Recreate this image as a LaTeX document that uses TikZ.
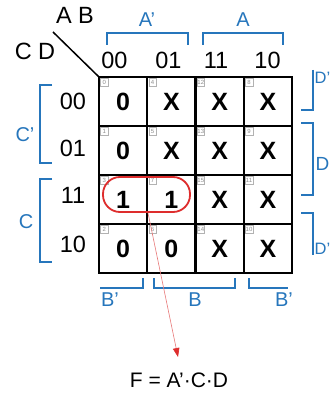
\documentclass[tikz,border=0pt]{standalone}
\usepackage{fontspec}
\setmainfont{Liberation Sans}
\usetikzlibrary{arrows.meta}
\definecolor{kblue}{RGB}{38,118,188}
\definecolor{kred}{RGB}{222,45,45}
\definecolor{kpink}{RGB}{232,120,120}
\begin{document}
\begin{tikzpicture}[x=1pt,y=-1pt,
  kcell/.style={draw=black,line width=2.2pt,minimum width=48.25pt,minimum height=49pt,inner sep=0pt,outer sep=0pt,font=\fontsize{25}{25}\selectfont\bfseries},
  kidx/.style={draw=gray!60,line width=0.4pt,minimum width=7.5pt,minimum height=7.5pt,inner sep=0.4pt,font=\fontsize{6}{6}\selectfont,text=gray!90,anchor=north west},
  hdr/.style={font=\fontsize{23.5}{23.5}\selectfont,inner sep=0pt},
  blab/.style={font=\fontsize{20}{20}\selectfont,text=kblue,inner sep=0pt},
  brk/.style={draw=kblue,line width=1.8pt}]
\useasboundingbox (0,0) rectangle (330,393);
\clip (0,0) rectangle (330,393);
\fill[white] (0,0) rectangle (330,393);
% cells
\foreach \r/\c/\v/\n in {0/0/0/0, 0/1/X/4, 0/2/X/12, 0/3/X/8,
                        1/0/0/1, 1/1/X/5, 1/2/X/13, 1/3/X/9,
                        2/0/1/3, 2/1/1/7, 2/2/X/15, 2/3/X/11,
                        3/0/0/2, 3/1/0/6, 3/2/X/14, 3/3/X/10}
{
  \node[kcell] (c\r\c) at ({123.125+48.25*\c},{101.5+49*\r}) {\v};
  \node[kidx] (i\r\c) at ([shift={(1.3pt,-1.3pt)}]c\r\c.north west) {\n};
}
% corner labels
\coordinate (dg) at (53,32);
\draw[line width=1.5pt] (dg) -- (c00.north west);
\node[hdr] (ab) at (75,15.5) {A B};
\node[hdr] (cd) at (35,51) {C D};
% column headers
\node[hdr] (h0) at (114.5,60.5) {00};
\node[hdr] (h1) at (168.5,60.5) {01};
\node[hdr] (h2) at (216,60.5) {11};
\node[hdr] (h3) at (267.5,60.5) {10};
% row headers
\node[hdr] (r0) at (73,101) {00};
\node[hdr] (r1) at (73,148) {01};
\node[hdr] (r2) at (73,195) {11};
\node[hdr] (r3) at (73,244) {10};
% brackets
\draw[brk] (107,45) -- (107,33) -- (188,33) -- (188,45);
\draw[brk] (203,45) -- (203,33) -- (283,33) -- (283,45);
\draw[brk] (52,85) -- (40,85) -- (40,163) -- (52,163);
\draw[brk] (52,179) -- (40,179) -- (40,262) -- (52,262);
\draw[brk] (313,70) -- (313,110) -- (301,110);
\draw[brk] (301,123) -- (313,123) -- (313,195) -- (301,195);
\draw[brk] (301,213) -- (313,213) -- (313,255);
\draw[brk] (100,288) -- (143,288) -- (143,278);
\draw[brk] (154,278) -- (154,288) -- (235,288) -- (235,278);
\draw[brk] (249,278) -- (249,288) -- (288,288);
% bracket labels
\node[blab] (la1) at (147,20) {A’};
\node[blab] (la) at (243,20) {A};
\node[blab] (lc1) at (25,135) {C’};
\node[blab] (lc) at (26,222) {C};
\node[blab,anchor=west,font=\fontsize{16.5}{16.5}\selectfont] (ld1) at (314.5,78) {D’};
\node[blab,anchor=west,font=\fontsize{19}{19}\selectfont] (ld) at (315.5,164) {D};
\node[blab,anchor=west,font=\fontsize{16.5}{16.5}\selectfont] (ld2) at (314.5,249) {D’};
\node[blab] (lb1) at (110,300) {B’};
\node[blab] (lb) at (195,300) {B};
\node[blab] (lb2) at (284,300) {B’};
% group
\node[draw=kred,line width=1.8pt,rounded corners=17pt,minimum width=87pt,minimum height=35pt,inner sep=0pt] (grp) at (146.5,194.5) {};
\coordinate (tip) at (178,357);
\draw[kpink,line width=0.6pt,-{Triangle[length=9pt,width=6.5pt,fill=kred,color=kred]}] ([xshift=1.5pt]grp.south) -- (tip);
\node[font=\fontsize{21}{21}\selectfont,inner sep=0pt] (F) at (179,380) {F = A’·C·D};
\end{tikzpicture}
\end{document}
